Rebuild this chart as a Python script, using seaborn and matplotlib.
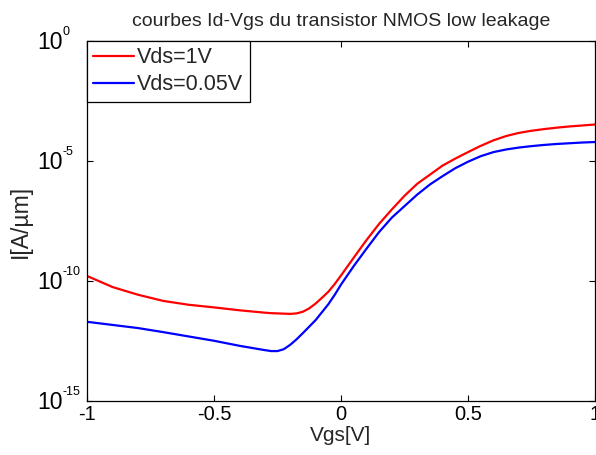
import numpy as np
import pandas as pd
import matplotlib
matplotlib.use("Agg")
import matplotlib.pyplot as plt
import seaborn as sns
from matplotlib.ticker import FixedLocator, NullLocator, NullFormatter

vgs = [-1.0, -0.9, -0.8, -0.7, -0.6, -0.5, -0.4, -0.3, -0.275, -0.25, -0.225, -0.2,
       -0.175, -0.15, -0.125, -0.1, -0.075, -0.05, -0.025, 0.0, 0.05, 0.1, 0.15, 0.2,
       0.25, 0.3, 0.35, 0.4, 0.45, 0.5, 0.55, 0.6, 0.65, 0.7, 0.75, 0.8, 0.85, 0.9,
       0.95, 1.0]
log_id_vds1 = [-9.79, -10.25, -10.57, -10.83, -10.99, -11.10, -11.22, -11.32, -11.34,
               -11.35, -11.36, -11.37, -11.35, -11.28, -11.14, -10.94, -10.70, -10.45,
               -10.13, -9.77, -9.03, -8.30, -7.62, -7.02, -6.45, -5.95, -5.57, -5.19,
               -4.90, -4.63, -4.37, -4.14, -3.96, -3.83, -3.74, -3.67, -3.61, -3.56,
               -3.52, -3.48]
log_id_vds005 = [-11.70, -11.83, -11.96, -12.13, -12.31, -12.49, -12.70, -12.88, -12.92,
                 -12.92, -12.84, -12.66, -12.43, -12.17, -11.90, -11.63, -11.30, -10.97,
                 -10.58, -10.15, -9.38, -8.66, -7.96, -7.36, -6.88, -6.40, -5.98, -5.63,
                 -5.30, -5.03, -4.80, -4.63, -4.52, -4.44, -4.38, -4.33, -4.29, -4.26,
                 -4.23, -4.21]
series_names = ["Vds=1V", "Vds=0.05V"]
series_colors = ["#ff0000", "#0000ff"]
x_ticks = [-1, -0.5, 0, 0.5, 1]
x_tick_labels = ["-1", "-0.5", "0", "0.5", "1"]
y_tick_exponents = [-15, -10, -5, 0]

df = pd.concat([
    pd.DataFrame({"Vgs": vgs, "Id": np.power(10.0, log_id_vds1), "serie": series_names[0]}),
    pd.DataFrame({"Vgs": vgs, "Id": np.power(10.0, log_id_vds005), "serie": series_names[1]}),
], ignore_index=True)

sns.set_theme(style="ticks")
plt.rcParams["font.family"] = ["Liberation Sans", "DejaVu Sans"]

fig = plt.figure(figsize=(5.96, 4.55), dpi=100)
ax = fig.add_axes([87 / 596, 54 / 455, 508 / 596, 360 / 455])

sns.lineplot(data=df, x="Vgs", y="Id", hue="serie", hue_order=series_names,
             palette=series_colors, linewidth=1.6, ax=ax, sort=False)

ax.set_yscale("log")
ax.set_xlim(-1, 1)
ax.set_ylim(1e-15, 1e0)
ax.xaxis.set_major_locator(FixedLocator(x_ticks))
ax.set_xticklabels(x_tick_labels)
ax.yaxis.set_major_locator(FixedLocator([10.0 ** e for e in y_tick_exponents]))
ax.yaxis.set_minor_locator(NullLocator())
ax.yaxis.set_major_formatter(NullFormatter())
ax.yaxis.set_minor_formatter(NullFormatter())
ax.tick_params(axis="both", which="major", direction="in", length=4, width=0.8,
               top=True, right=True, colors="black", labelcolor="black")
ax.tick_params(axis="x", labelsize=14.5, pad=3)
for sp in ax.spines.values():
    sp.set_visible(True)
    sp.set_color("black")
    sp.set_linewidth(0.9)

# y tick labels in MATLAB style: large "10" with a small exponent
for e in y_tick_exponents:
    yv = 10.0 ** e
    ax.annotate("10", xy=(0, yv), xycoords=("axes fraction", "data"),
                xytext=(-50, -8), textcoords="offset pixels", ha="left",
                va="baseline", fontsize=16.5, color="black", annotation_clip=False)
    ax.annotate(str(e), xy=(0, yv), xycoords=("axes fraction", "data"),
                xytext=(-24.5, 6), textcoords="offset pixels", ha="left",
                va="baseline", fontsize=9, color="black", annotation_clip=False)

ax.set_xlabel("Vgs[V]", fontsize=15, labelpad=1)
ax.set_ylabel("I[A/µm]", fontsize=16.5, labelpad=36)
ax.set_title("courbes Id-Vgs du transistor NMOS low leakage", fontsize=14, pad=10.8)

leg = ax.legend(loc="upper left", borderaxespad=0, fontsize=15.5, frameon=True,
                fancybox=False, framealpha=1, edgecolor="black", handlelength=1.9,
                handletextpad=0.12, borderpad=0.3, labelspacing=0.27)
leg.get_frame().set_linewidth(0.9)
leg.set_title(None)

fig.savefig("out.png", dpi=100, facecolor="white")
